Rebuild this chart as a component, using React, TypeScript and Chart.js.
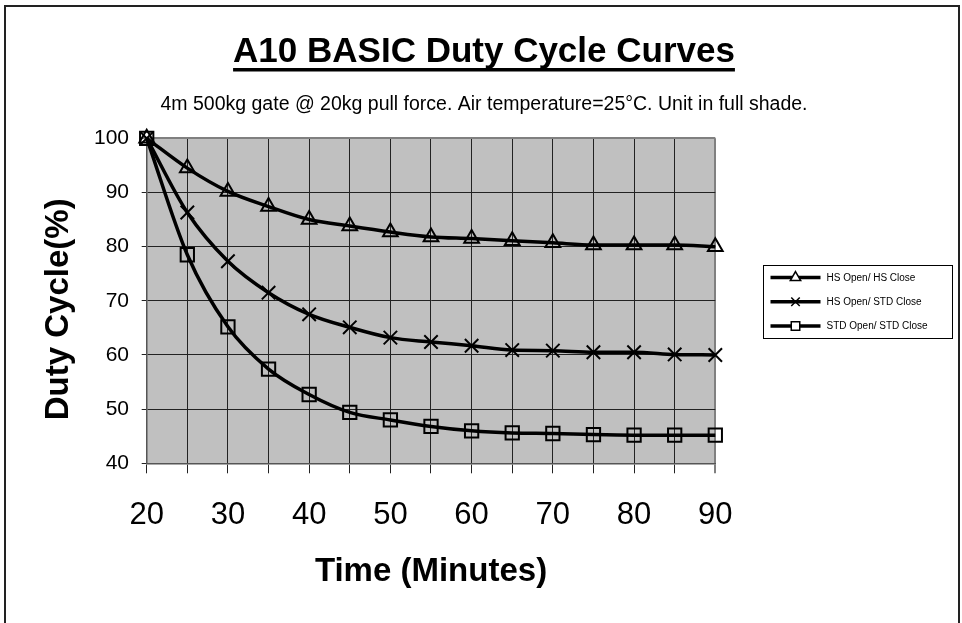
import React, { useEffect, useRef } from 'react';
import { Chart, registerables } from 'chart.js';

Chart.register(...registerables);

// ---------- data ----------
const TITLE = 'A10 BASIC Duty Cycle Curves';
const SUBTITLE = '4m 500kg gate @ 20kg pull force. Air temperature=25°C. Unit in full shade.';
const X_TITLE = 'Time (Minutes)';
const Y_TITLE = 'Duty Cycle(%)';

const times = [20, 25, 30, 35, 40, 45, 50, 55, 60, 65, 70, 75, 80, 85, 90];
const seriesNames = ['HS Open/ HS Close', 'HS Open/ STD Close', 'STD Open/ STD Close'];
const hsOpenHsClose = [100, 94.5, 90.2, 87.4, 85.0, 83.8, 82.7, 81.8, 81.5, 81.1, 80.7, 80.3, 80.3, 80.3, 80.0];
const hsOpenStdClose = [100, 86.3, 77.3, 71.5, 67.5, 65.1, 63.2, 62.4, 61.7, 60.9, 60.8, 60.5, 60.5, 60.1, 60.0];
const stdOpenStdClose = [100, 78.5, 65.2, 57.4, 52.7, 49.4, 48.0, 46.8, 46.0, 45.6, 45.5, 45.3, 45.2, 45.2, 45.2];
const seriesMarkers = ['triangle', 'crossRot', 'rect'];

const X_MIN = 20;
const X_MAX = 90;
const X_GRID_STEP = 5;
const X_LABEL_STEP = 10;
const Y_MIN = 40;
const Y_MAX = 100;
const Y_STEP = 10;

// ---------- layout / style ----------
const W = 962;
const H = 623;
const FONT = '"Liberation Sans", Arial, Helvetica, sans-serif';
const PLOT_LEFT = 146.7;
const PLOT_RIGHT = 715.3;
const PLOT_BOTTOM = 463.3;
const PAD_LEFT = 6;

const TITLE_SIZE = 35;
const TITLE_PAD_TOP = 31;
const SUB_SIZE = 19.5;
const SUB_PAD_TOP = 20.3;
const SUB_PAD_BOTTOM = 21.6;

const markerRadius: Record<string, number> = { triangle: 8.5, crossRot: 9.5, rect: 9.4 };

function drawMarker(ctx: CanvasRenderingContext2D, style: string, x: number, y: number, r: number) {
  ctx.beginPath();
  if (style === 'triangle') {
    for (let i = 0; i < 3; i++) {
      const a = (i * 2 * Math.PI) / 3;
      const px = x + Math.sin(a) * r;
      const py = y - Math.cos(a) * r;
      if (i === 0) ctx.moveTo(px, py);
      else ctx.lineTo(px, py);
    }
    ctx.closePath();
    ctx.fillStyle = '#fff';
    ctx.fill();
  } else if (style === 'crossRot') {
    const d = r * Math.SQRT1_2;
    ctx.moveTo(x - d, y - d);
    ctx.lineTo(x + d, y + d);
    ctx.moveTo(x - d, y + d);
    ctx.lineTo(x + d, y - d);
  } else {
    const s = r * Math.SQRT1_2;
    ctx.rect(x - s, y - s, 2 * s, 2 * s);
    ctx.fillStyle = '#fff';
    ctx.fill();
  }
  ctx.stroke();
}

const decorPlugin = {
  id: 'decor',
  beforeDraw(chart: any) {
    const { ctx, chartArea: a, width, height } = chart;
    ctx.save();
    ctx.fillStyle = '#ffffff';
    ctx.fillRect(0, 0, width, height);
    ctx.fillStyle = '#c0c0c0';
    ctx.fillRect(a.left, a.top, a.right - a.left, a.bottom - a.top);
    ctx.restore();
  },
  afterDraw(chart: any) {
    const { ctx, chartArea: a } = chart;
    ctx.save();
    // title underline
    const tb = chart.titleBlock;
    if (tb) {
      ctx.font = `bold ${TITLE_SIZE}px ${FONT}`;
      const w = ctx.measureText(TITLE).width;
      const cx = (tb.left + tb.right) / 2;
      const mid = tb.top + TITLE_PAD_TOP + (TITLE_SIZE * 1.2) / 2;
      ctx.fillStyle = '#000';
      ctx.fillRect(cx - w / 2, mid + 16, w, 3.5);
    }
    // y axis title
    ctx.save();
    ctx.translate(58.5, (a.top + a.bottom) / 2 + 8.5);
    ctx.rotate(-Math.PI / 2);
    ctx.font = `bold 33px ${FONT}`;
    ctx.fillStyle = '#000';
    ctx.textAlign = 'center';
    ctx.textBaseline = 'middle';
    ctx.fillText(Y_TITLE, 0, 0);
    ctx.restore();

    // legend
    const lx = 763.5;
    const ly = 265.5;
    ctx.lineWidth = 1;
    ctx.strokeStyle = '#000';
    ctx.strokeRect(lx, ly, 189, 73);
    chart.data.datasets.forEach((ds: any, i: number) => {
      const y = ly + 12 + i * 24.3;
      ctx.strokeStyle = ds.borderColor;
      ctx.lineWidth = 3.5;
      ctx.beginPath();
      ctx.moveTo(lx + 7, y);
      ctx.lineTo(lx + 57, y);
      ctx.stroke();
      ctx.lineWidth = 1.5;
      drawMarker(ctx, ds.pointStyle, lx + 32, y, 6);
      ctx.fillStyle = '#000';
      ctx.font = `10px ${FONT}`;
      ctx.textAlign = 'left';
      ctx.textBaseline = 'middle';
      ctx.fillText(ds.label, lx + 63, y + 0.5);
    });

    // outer border
    ctx.lineWidth = 2;
    ctx.strokeStyle = '#222';
    ctx.strokeRect(5, 6, 954, 700);
    ctx.restore();
  },
};

export default function App() {
  const ref = useRef<HTMLCanvasElement | null>(null);

  useEffect(() => {
    if (!ref.current) return;
    Chart.defaults.font.family = FONT;
    Chart.defaults.color = '#000';
    const series = [hsOpenHsClose, hsOpenStdClose, stdOpenStdClose];
    const chart = new Chart(ref.current, {
      type: 'line',
      data: {
        datasets: series.map((vals, i) => ({
          label: seriesNames[i],
          data: times.map((t, j) => ({ x: t, y: vals[j] })),
          borderColor: '#000',
          borderWidth: 3.5,
          backgroundColor: 'rgba(0,0,0,0)',
          pointStyle: seriesMarkers[i] as any,
          pointRadius: markerRadius[seriesMarkers[i]],
          pointBorderWidth: 2,
          pointBorderColor: '#000',
          pointBackgroundColor: 'rgba(0,0,0,0)',
          cubicInterpolationMode: 'monotone' as const,
          clip: false as any,
          fill: false,
        })),
      },
      plugins: [decorPlugin],
      options: {
        responsive: false,
        animation: false,
        devicePixelRatio: 1,
        layout: { padding: { left: PAD_LEFT, right: 0, top: 0, bottom: 0 } },
        plugins: {
          legend: { display: false },
          tooltip: { enabled: false },
          title: {
            display: true,
            text: TITLE,
            color: '#000',
            font: { size: TITLE_SIZE, weight: 'bold', family: FONT, lineHeight: 1.2 },
            padding: { top: TITLE_PAD_TOP, bottom: 0 },
          },
          subtitle: {
            display: true,
            text: SUBTITLE,
            color: '#000',
            font: { size: SUB_SIZE, weight: 'normal', family: FONT, lineHeight: 1.2 },
            padding: { top: SUB_PAD_TOP, bottom: SUB_PAD_BOTTOM },
          },
        },
        scales: {
          x: {
            type: 'linear',
            position: 'bottom',
            min: X_MIN,
            max: X_MAX,
            afterFit: (s: any) => {
              s.height = H - PLOT_BOTTOM;
            },
            ticks: {
              stepSize: X_GRID_STEP,
              autoSkip: false,
              maxRotation: 0,
              padding: 23.6,
              color: '#000',
              font: { size: 31, family: FONT },
              callback: (v: any) => (Number(v) % X_LABEL_STEP === 0 ? String(v) : ''),
            },
            grid: {
              color: (c: any) => (c.tick && c.tick.value === X_MAX ? '#808080' : '#222'),
              lineWidth: (c: any) => (c.tick && c.tick.value === X_MAX ? 2 : 1),
              tickLength: 10,
              drawTicks: true,
            },
            border: { display: true, color: '#555', width: 1.5 },
            title: {
              display: true,
              text: X_TITLE,
              color: '#000',
              font: { size: 33, weight: 'bold', family: FONT, lineHeight: 1.2 },
              padding: { top: 0, bottom: 31.6 },
            },
          },
          y: {
            type: 'linear',
            position: 'left',
            min: Y_MIN,
            max: Y_MAX,
            afterFit: (s: any) => {
              s.width = PLOT_LEFT - PAD_LEFT;
            },
            ticks: {
              stepSize: Y_STEP,
              padding: 12.7,
              color: '#000',
              font: { size: 21, family: FONT },
            },
            grid: {
              color: (c: any) => (c.tick && c.tick.value === Y_MAX ? '#808080' : '#222'),
              lineWidth: (c: any) => (c.tick && c.tick.value === Y_MAX ? 2 : 1),
              tickLength: 5,
              drawTicks: true,
            },
            border: { display: true, color: '#555', width: 1.5 },
          },
          legendSpace: {
            type: 'linear',
            position: 'right',
            display: true,
            afterFit: (s: any) => {
              s.width = W - PLOT_RIGHT;
            },
            ticks: { display: false },
            grid: { display: false, drawTicks: false },
            border: { display: false },
          },
        },
      } as any,
    });
    return () => chart.destroy();
  }, []);

  return (
    <div style={{ position: 'fixed', left: 0, top: 0, width: W, height: H, background: '#fff' }}>
      <canvas ref={ref} width={W} height={H} style={{ display: 'block' }} />
    </div>
  );
}
